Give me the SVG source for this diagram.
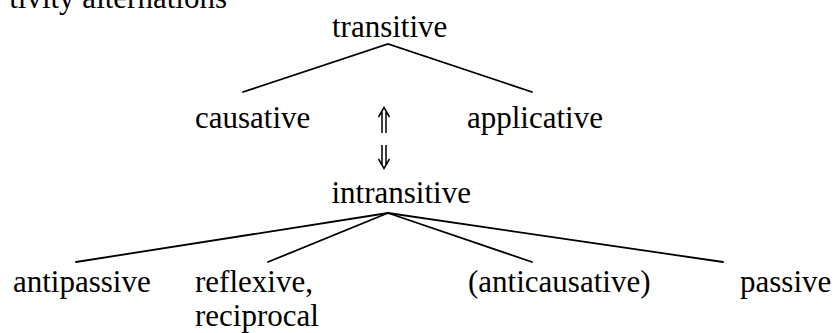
<svg xmlns="http://www.w3.org/2000/svg" width="834" height="333" viewBox="0 0 834 333">
<style>
text{font-family:"Liberation Serif","Times New Roman",serif;font-size:31px;fill:#000}
.ln{stroke:#000;stroke-width:1.8;fill:none;stroke-linecap:round}
.ar{stroke:#000;stroke-width:1.5;fill:none}
</style>
<rect width="834" height="333" fill="#fff"/>
<text id="title" x="227" y="8" text-anchor="end">tivity alternations</text>
<g id="connectors">
<polyline class="ln" points="243,92 388,44 532,92"/>
<line class="ln" x1="388" y1="213" x2="76" y2="262"/>
<line class="ln" x1="388" y1="213" x2="268" y2="262"/>
<line class="ln" x1="388" y1="213" x2="532" y2="262"/>
<line class="ln" x1="388" y1="213" x2="723" y2="262"/>
<g id="alternation">
<path class="ar" d="M382,133 V111 M386,133 V111 M378.5,117 L384,107.5 L389.5,117"/>
<path class="ar" d="M382,145 V165 M386,145 V165 M378.5,159 L384,168.5 L389.5,159"/>
</g>
</g>
<g id="transitive"><text x="332" y="37">transitive</text></g>
<g id="causative"><text x="195" y="128">causative</text></g>
<g id="applicative"><text x="467" y="128">applicative</text></g>
<g id="intransitive"><text x="331.5" y="203">intransitive</text></g>
<g id="antipassive"><text x="13" y="292">antipassive</text></g>
<g id="reflexive"><text x="195" y="292">reflexive,</text><text x="195" y="326">reciprocal</text></g>
<g id="anticausative"><text x="468" y="292">(anticausative)</text></g>
<g id="passive"><text x="740" y="292">passive</text></g>
</svg>
